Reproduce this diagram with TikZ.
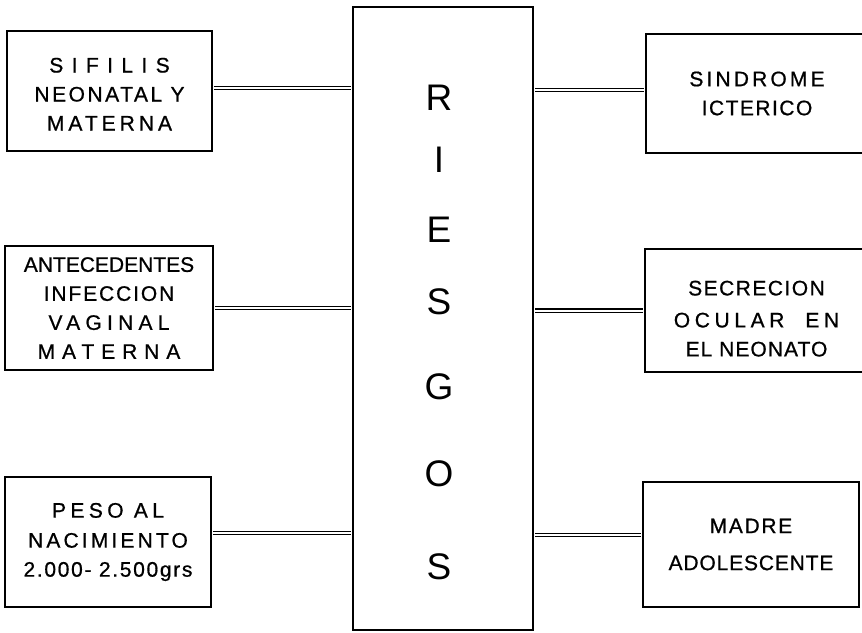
\documentclass[tikz,border=0pt]{standalone}
\usepackage{fontspec}
\setmainfont{Liberation Sans}
\newfontfamily\boxfont[FakeBold=0.8]{Liberation Sans}
\newcommand{\lsp}[2]{{\addfontfeature{LetterSpace=#1}#2}}
\begin{document}
\begin{tikzpicture}[x=1pt,y=-1pt,
  box/.style={draw, line width=2pt, inner sep=0pt, align=center,
    font=\boxfont\fontsize{21}{29}\selectfont},
  bigbox/.style={draw, line width=2.2pt, inner sep=0pt,
    minimum width=180pt, minimum height=623pt},
  bigl/.style={inner sep=0pt, font=\fontsize{37}{40}\selectfont},
  conn/.style={line width=1.4pt, double, double distance=2pt,
    shorten <=1pt, shorten >=1.1pt}]
\useasboundingbox (0,0) rectangle (862,632);

% central box
\node[bigbox] (riesgos) at (443,318.5) {};
\node[bigl] (l1) at (439,98) {R};
\node[bigl] (l2) at (439,160) {I};
\node[bigl] (l3) at (439,230) {E};
\node[bigl] (l4) at (439,302) {S};
\node[bigl] (l5) at (439,387) {G};
\node[bigl] (l6) at (439,474) {O};
\node[bigl] (l7) at (439,567) {S};

% left boxes
\node[box, minimum width=205pt, minimum height=120pt] (b1) at (109.5,91)
  {\rule{0pt}{21pt}\lsp{40}{SIFILIS}\\\lsp{12}{NEONATAL Y}\\\lsp{19}{MATERNA}};
\node[box, minimum width=208pt, minimum height=124pt] (b2) at (109,308)
  {\lsp{0}{ANTECEDENTES}\\\lsp{9}{INFECCION}\\\lsp{25}{VAGINAL}\\\lsp{33}{MATERNA}};
\node[box, minimum width=206pt, minimum height=130pt] (b3) at (108,542)
  {\lsp{21}{PESO AL}\\[1pt]\lsp{15}{NACIMIENTO}\\\lsp{8}{2.000- 2.500grs}};

% right boxes
\node[box, minimum width=222pt, minimum height=119pt] (b4) at (757,93.5)
  {\lsp{15}{SINDROME}\\\lsp{7}{ICTERICO}};
\node[box, minimum width=223pt, minimum height=123pt] (b5) at (756.5,310.5)
  {\rule{0pt}{31pt}\lsp{7}{SECRECION}\\[3pt]\lsp{22}{OCULAR\ \ EN}\\\lsp{5}{EL NEONATO}};
\node[box, minimum width=216pt, minimum height=125pt] (b6) at (751,544.5)
  {\lsp{8}{MADRE}\\[8pt]\lsp{4}{ADOLESCENTE}};

% connectors
\draw[conn] ([yshift=3pt]b1.east) -- ([yshift=3pt]b1.east -| riesgos.west);
\draw[conn] (b2.east) -- (b2.east -| riesgos.west);
\draw[conn] ([yshift=9pt]b3.east) -- ([yshift=9pt]b3.east -| riesgos.west);
\draw[conn] ([yshift=3.5pt]b4.west) -- ([yshift=3.5pt]b4.west -| riesgos.east);
\draw[conn] (b5.west) -- (b5.west -| riesgos.east);
\draw[conn] ([yshift=9.5pt]b6.west) -- ([yshift=9.5pt]b6.west -| riesgos.east);
\end{tikzpicture}
\end{document}
